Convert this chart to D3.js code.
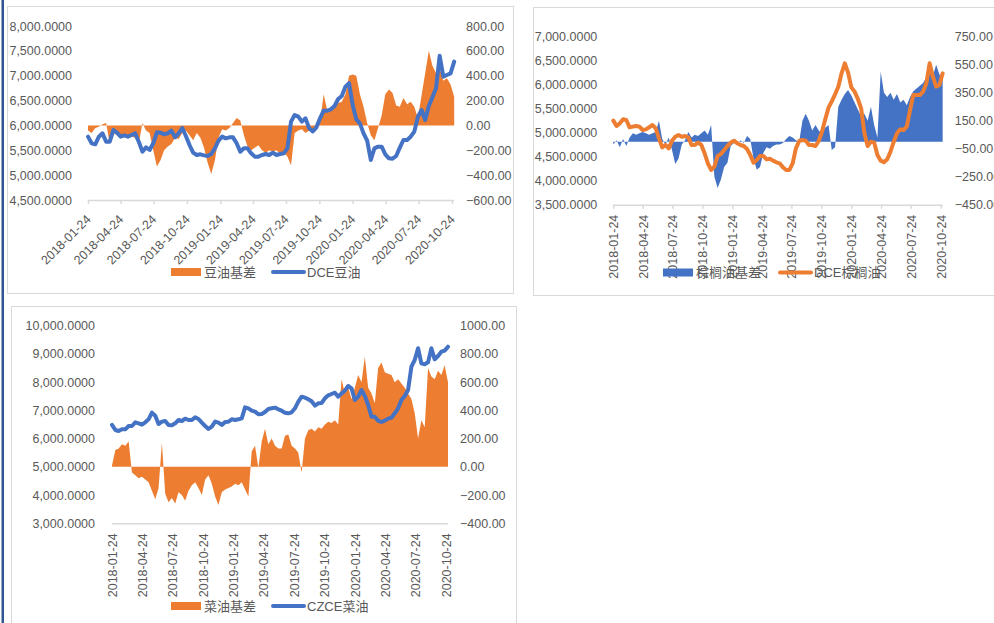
<!DOCTYPE html>
<html>
<head>
<meta charset="utf-8">
<script src="https://cdn.jsdelivr.net/npm/d3@7"></script>
<style>
  body { margin: 0; background: #fff; }
  text { font-family: "Liberation Sans", "Noto Sans CJK SC", sans-serif; fill: #595959; }
</style>
</head>
<body>
<svg id="chart" width="994" height="623"></svg>
<script>
// sampled every 10 days from the first date
var startDate = "2018-01-24",
    stepDays = 10;

var tickLabels = ["2018-01-24", "2018-04-24", "2018-07-24", "2018-10-24", "2019-01-24", "2019-04-24",
    "2019-07-24", "2019-10-24", "2020-01-24", "2020-04-24", "2020-07-24", "2020-10-24"];

// DCE豆油 (left axis)
var soyPrice = [5774, 5640, 5620, 5774, 5841, 5673, 5673, 5908, 5854, 5774,
    5801, 5774, 5807, 5841, 5673, 5472, 5559, 5506, 5640, 5861,
    5854, 5821, 5841, 5895, 5760, 5841, 5948, 5787, 5606, 5452,
    5405, 5419, 5398, 5385, 5425, 5539, 5693, 5774, 5740, 5760,
    5760, 5640, 5472, 5539, 5539, 5439, 5372, 5372, 5405, 5425,
    5405, 5452, 5405, 5425, 5439, 5539, 6076, 6210, 6176, 6076,
    6143, 5942, 5881, 5962, 6143, 6297, 6297, 6324, 6391, 6532,
    6592, 6780, 6850, 6411, 6123, 6042, 5841, 5693, 5305, 5539,
    5573, 5573, 5419, 5338, 5331, 5385, 5553, 5707, 5707, 5774,
    5875, 6176, 6310, 6109, 6391, 6565, 6746, 7400, 6981, 7014,
    7048, 7283];

// 豆油基差 (right axis)
var soyBasis = [-40, -60, -20, -10, 10, 20, -150, -60, -80, -90,
    -90, -90, -90, -100, -150, 20, -40, -60, -200, -330,
    -280, -200, -170, -150, -100, -110, -60, -40, -80, -120,
    -60, -100, -180, -300, -390, -280, -100, -30, -40, -20,
    20, 60, 40, -80, -170, -200, -180, -160, -200, -220,
    -200, -210, -200, -230, -220, -250, -320, -60, -40, -30,
    -60, -40, -50, -30, 30, 250, 120, 150, 170, 180,
    190, 250, 400, 410, 400, 250, 150, 20, -80, -120,
    -20, 80, 250, 290, 260, 160, 150, 220, 170, 190,
    150, 60, 240, 420, 600, 480, 420, 460, 360, 380,
    330, 230];

// DCE棕榈油 (left axis)
var palmPrice = [5251, 5140, 5195, 5279, 5265, 5112, 5126, 5140, 5126, 5056,
    5070, 5112, 5161, 5091, 4883, 4695, 4744, 4674, 4834, 4917,
    4952, 4917, 4931, 4904, 4744, 4744, 4793, 4744, 4570, 4362,
    4223, 4293, 4515, 4556, 4640, 4723, 4793, 4834, 4779, 4744,
    4723, 4661, 4536, 4376, 4431, 4515, 4515, 4445, 4459, 4418,
    4383, 4362, 4279, 4223, 4223, 4362, 4674, 4827, 4848, 4834,
    4744, 4744, 4723, 4827, 5022, 5279, 5522, 5654, 5799, 5959,
    6237, 6445, 6251, 5945, 5855, 5702, 5508, 4987, 4723, 4813,
    4793, 4536, 4418, 4383, 4445, 4605, 4813, 4987, 5070, 5056,
    5126, 5473, 5786, 5786, 5786, 5855, 6029, 6445, 6167, 5959,
    5994, 6237];

// 棕榈油基差 (right axis)
var palmBasis = [-20, 10, -40, 20, -30, 30, 60, 50, 60, 70,
    60, 50, 60, 70, 150, 20, -20, 30, -60, -160,
    -120, -20, 10, 70, 30, 50, 40, 60, 80, 50,
    120, -250, -330, -270, -180, -150, -30, -10, -20, 10,
    -10, 40, 20, -120, -200, -180, -80, -40, -50, -30,
    -20, -20, -10, 20, 40, 30, 10, 0, 150, 200,
    150, 80, 120, 80, 60, 100, 120, -60, -40, 250,
    300, 340, 370, 330, 280, 230, 180, 200, 150, 250,
    120, 30, 500, 350, 320, 350, 300, 340, 280, 300,
    260, 320, 360, 380, 400, 420, 460, 500, 470, 550,
    480, 460];

// CZCE菜油 (left axis)
var rapePrice = [6483, 6306, 6270, 6329, 6329, 6447, 6447, 6577, 6542, 6495,
    6577, 6683, 6920, 6813, 6518, 6601, 6624, 6483, 6471, 6542,
    6660, 6624, 6707, 6660, 6660, 6754, 6695, 6565, 6447, 6341,
    6424, 6601, 6565, 6483, 6589, 6601, 6683, 6660, 6683, 6719,
    7108, 7073, 6991, 6955, 6861, 6873, 6943, 7049, 7073, 7097,
    7038, 6990, 6919, 6896, 6931, 7073, 7309, 7486, 7451, 7392,
    7321, 7168, 7250, 7262, 7427, 7534, 7581, 7628, 7486, 7604,
    7699, 7864, 7781, 7368, 7486, 7722, 7510, 7191, 6778, 6778,
    6636, 6589, 6636, 6707, 6742, 6896, 7073, 7368, 7510, 7722,
    8549, 8785, 9200, 8667, 8632, 8702, 9200, 8809, 8927, 9080,
    9116, 9256];

// 菜油基差 (right axis)
var rapeBasis = [10, 120, 130, 160, 150, 180, -40, -60, -80, -70,
    -90, -110, -170, -230, -150, 170, -190, -250, -220, -260,
    -180, -200, -240, -170, -130, -110, -150, -200, -90, -60,
    -120, -210, -270, -180, -160, -150, -140, -120, -130, -110,
    -160, -210, 110, 150, -10, 180, 270, 160, 200, 150,
    130, 130, 220, 230, 150, 130, 100, -40, 200, 260,
    270, 250, 280, 270, 300, 320, 310, 330, 300, 620,
    520, 560, 480, 560, 650, 600, 780, 560, 520, 450,
    700, 740, 670, 660, 650, 600, 620, 590, 560, 520,
    480, 380, 200, 330, 280, 700, 640, 620, 680, 650,
    720, 600];

var orange = "#ed7d31",
    blue = "#4472c4",
    gridGray = "#d9d9d9";

var parseDate = d3.timeParse("%Y-%m-%d");
var start = parseDate(startDate);
var dates = soyPrice.map(function (d, i) {
    return d3.timeDay.offset(start, i * stepDays);
});

var svg = d3.select("#chart");
svg.append("rect").attr("width", 994).attr("height", 623).attr("fill", "#fff");

function drawPanel(p) {
    var g = svg.append("g");

    g.append("rect")
        .attr("x", p.frame[0]).attr("y", p.frame[1])
        .attr("width", p.frame[2]).attr("height", p.frame[3])
        .attr("fill", "#fff").attr("stroke", gridGray).attr("stroke-width", 1);

    var x = d3.scaleTime()
        .domain([parseDate(tickLabels[0]), parseDate(tickLabels[tickLabels.length - 1])])
        .range([p.x0, p.x1]);
    var yL = d3.scaleLinear().domain(p.leftDomain).range([p.yB, p.yT]);
    var yR = d3.scaleLinear().domain(p.rightDomain).range([p.yB, p.yT]);

    var pts = dates.map(function (d, i) {
        return {date: d, a: p.areaData[i], l: p.lineData[i]};
    });

    // axis line along the bottom
    g.append("line")
        .attr("x1", p.x0).attr("x2", x(dates[dates.length - 1]))
        .attr("y1", p.yB + 0.5).attr("y2", p.yB + 0.5)
        .attr("stroke", gridGray).attr("stroke-width", 1.5);

    // basis area on the secondary axis
    g.append("path")
        .datum(pts)
        .attr("fill", p.areaColor)
        .attr("d", d3.area()
            .x(function (d) { return x(d.date); })
            .y0(yR(0))
            .y1(function (d) { return yR(d.a); }));

    // futures price line on the primary axis
    g.append("path")
        .datum(pts)
        .attr("fill", "none")
        .attr("stroke", p.lineColor)
        .attr("stroke-width", 4)
        .attr("stroke-linejoin", "round")
        .attr("stroke-linecap", "round")
        .attr("d", d3.line()
            .x(function (d) { return x(d.date); })
            .y(function (d) { return yL(d.l); }));

    var leftAxis = g.append("g")
        .attr("transform", "translate(" + p.x0 + ",0)")
        .call(d3.axisLeft(yL).tickValues(p.leftTicks).tickFormat(d3.format(",.4f"))
            .tickSize(0).tickPadding(p.leftPad));
    leftAxis.select(".domain").remove();

    var rightAxis = g.append("g")
        .attr("transform", "translate(" + p.x1 + ",0)")
        .call(d3.axisRight(yR).tickValues(p.rightTicks).tickFormat(d3.format(".2f"))
            .tickSize(0).tickPadding(p.rightPad));
    rightAxis.select(".domain").remove();

    var bottomAxis = g.append("g")
        .attr("transform", "translate(0," + p.yB + ")")
        .call(d3.axisBottom(x).tickValues(tickLabels.map(parseDate))
            .tickFormat(d3.timeFormat("%Y-%m-%d")).tickSize(p.tickLen).tickSizeOuter(0));
    bottomAxis.select(".domain").remove();
    bottomAxis.selectAll(".tick line").attr("stroke", gridGray).attr("stroke-width", 1.5);
    bottomAxis.selectAll(".tick text")
        .attr("x", 0).attr("y", 0).attr("dy", "0.35em")
        .attr("text-anchor", "end")
        .attr("transform", "translate(" + p.labelShift[0] + "," + p.labelShift[1] + ") rotate(" + p.labelAngle + ")");

    g.selectAll(".tick text")
        .style("font-size", "12.5px")
        .style("fill", "#595959");

    // legend
    var lg = g.append("g").attr("transform", "translate(" + p.legend[0] + "," + p.legend[1] + ")");
    var firstItem = lg.append("g");
    if (p.areaFirst) {
        firstItem.append("rect").attr("x", 0).attr("y", -4).attr("width", 30).attr("height", 8).attr("fill", p.areaColor);
    }
    lg.append("text").attr("x", 33).attr("y", 0).attr("dy", "0.35em")
        .style("font-size", "13px").text(p.areaName);
    lg.append("line")
        .attr("x1", p.legendGap).attr("x2", p.legendGap + 31).attr("y1", 0).attr("y2", 0)
        .attr("stroke", p.lineColor).attr("stroke-width", 4).attr("stroke-linecap", "round");
    lg.append("text").attr("x", p.legendGap + 34).attr("y", 0).attr("dy", "0.35em")
        .style("font-size", "13px").text(p.lineName);
}

drawPanel({
    frame: [7.5, 6.5, 506, 287],
    x0: 88, x1: 452, yT: 26, yB: 200,
    leftDomain: [4500, 8000], rightDomain: [-600, 800],
    leftTicks: d3.range(4500, 8001, 500), rightTicks: d3.range(-600, 801, 200),
    leftPad: 16, rightPad: 14,
    areaData: soyBasis, lineData: soyPrice,
    areaColor: orange, lineColor: blue,
    areaName: "豆油基差", lineName: "DCE豆油",
    tickLen: 4, labelAngle: -45, labelShift: [0, 17],
    legend: [171, 272], legendGap: 102, areaFirst: true
});

drawPanel({
    frame: [533.5, 7.5, 470, 288],
    x0: 613.3, x1: 940.7, yT: 36.7, yB: 204.7,
    leftDomain: [3500, 7000], rightDomain: [-450, 750],
    leftTicks: d3.range(3500, 7001, 500), rightTicks: d3.range(-450, 751, 200),
    leftPad: 16, rightPad: 14,
    areaData: palmBasis, lineData: palmPrice,
    areaColor: blue, lineColor: orange,
    areaName: "棕榈油基差", lineName: "DCE棕榈油",
    tickLen: 4, labelAngle: -90, labelShift: [0, 10],
    legend: [663, 272.5], legendGap: 117, areaFirst: true
});

drawPanel({
    frame: [11.5, 306.5, 505, 330],
    x0: 112, x1: 446, yT: 325.7, yB: 523.3,
    leftDomain: [3000, 10000], rightDomain: [-400, 1000],
    leftTicks: d3.range(3000, 10001, 1000), rightTicks: d3.range(-400, 1001, 200),
    leftPad: 17, rightPad: 14,
    areaData: rapeBasis, lineData: rapePrice,
    areaColor: orange, lineColor: blue,
    areaName: "菜油基差", lineName: "CZCE菜油",
    tickLen: 0, labelAngle: -90, labelShift: [0, 10],
    legend: [171, 606], legendGap: 102, areaFirst: true
});

// dark blue edge on the far left
svg.append("rect").attr("x", 1.5).attr("y", 0).attr("width", 2.5).attr("height", 623).attr("fill", "#2f5597");
</script>
</body>
</html>
